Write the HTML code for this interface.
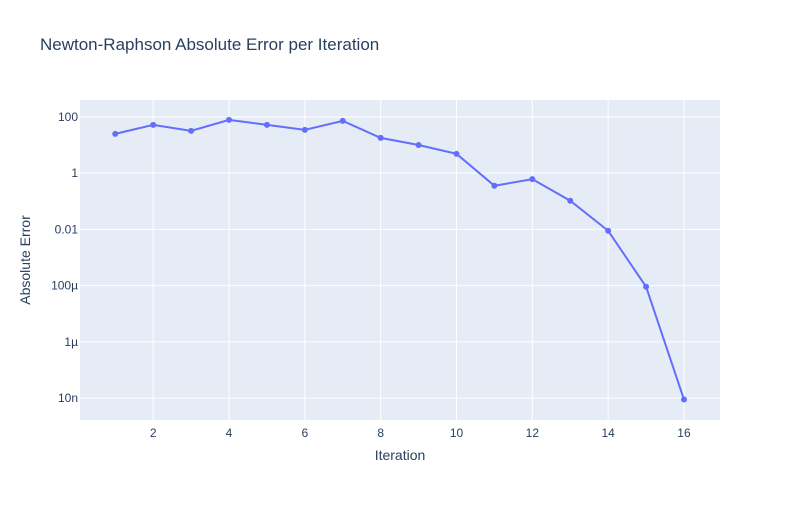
<!DOCTYPE html>
<html><head><meta charset="utf-8"><style>
body{margin:0;background:#fff;font-family:"Liberation Sans",Arial,sans-serif;}
svg text{font-family:"Liberation Sans",Arial,sans-serif;fill:#2a3f5f;}
</style></head><body>
<svg id="chart" width="800" height="500">
<rect x="0" y="0" width="800" height="500" fill="#fff"/>
<text x="40" y="50" font-size="17">Newton-Raphson Absolute Error per Iteration</text>
<rect x="80" y="100" width="640" height="320" fill="#e5ecf6"/>
<g id="grid"></g><g id="series"></g>
<text x="400" y="460" font-size="14" text-anchor="middle">Iteration</text>
<text transform="translate(30,260) rotate(-90)" font-size="14" text-anchor="middle">Absolute Error</text>
</svg>
<script>
const iterations=[1,2,3,4,5,6,7,8,9,10,11,12,13,14,15,16];
const errors=[24.9,52,31.8,78,52,34.5,72,17.9,10,4.85,0.355,0.61,0.104,0.0089,9.1e-5,8.9e-9];
const xTicks=[2,4,6,8,10,12,14,16];
const yTickVals=[100,1,0.01,1e-4,1e-6,1e-8];
const yTickLabels=["100","1","0.01","100µ","1µ","10n"];
const NS="http://www.w3.org/2000/svg";
const X0=0.07,X1=16.95,L0=-8.78,L1=2.6;
const sx=v=>80+(v-X0)/(X1-X0)*640;
const sy=v=>420-(Math.log10(v)-L0)/(L1-L0)*320;
const grid=document.getElementById('grid'),ser=document.getElementById('series');
function mk(tag,at,p){const e=document.createElementNS(NS,tag);for(const k in at)e.setAttribute(k,at[k]);p.appendChild(e);return e;}
xTicks.forEach(t=>{
 const l=mk('line',{x1:sx(t),x2:sx(t),y1:100,y2:420,stroke:'#fff','stroke-width':1},grid);
 
 
 const tx=mk('text',{x:sx(t),y:437,'font-size':12,'text-anchor':'middle'},grid);tx.textContent=t;
 
 
});
yTickVals.forEach((v,i)=>{
 const l=mk('line',{x1:80,x2:720,y1:sy(v),y2:sy(v),stroke:'#fff','stroke-width':1},grid);
 
 
 const tx=mk('text',{x:78,y:sy(v)+4,'font-size':12,'text-anchor':'end'},grid);tx.textContent=yTickLabels[i];
 
 
});
const pts=iterations.map((x,i)=>sx(x)+','+sy(errors[i])).join(' ');
const pl=mk('polyline',{points:pts,fill:'none',stroke:'#636efa','stroke-width':2},ser);


iterations.forEach((x,i)=>{
 const c=mk('circle',{cx:sx(x),cy:sy(errors[i]),r:3,fill:'#636efa'},ser);
 
 
});
</script>
</body></html>
